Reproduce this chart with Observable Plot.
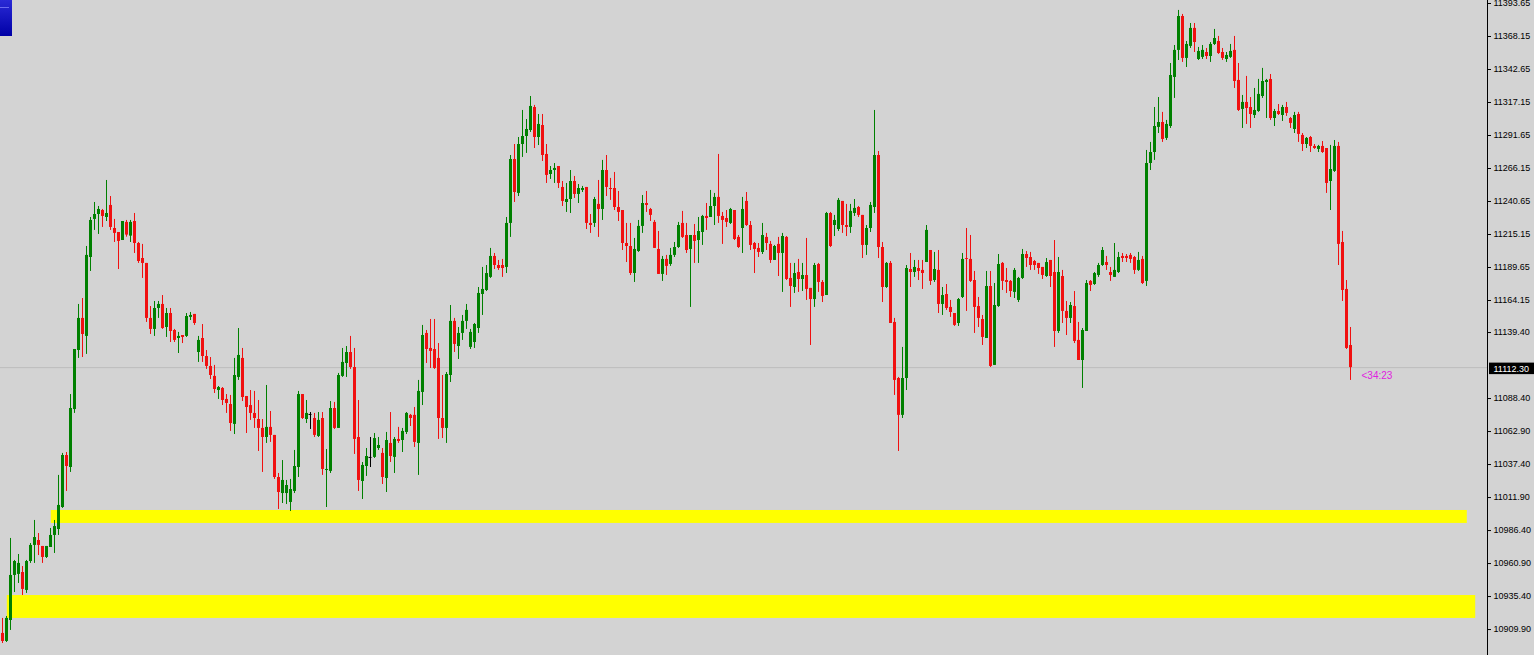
<!DOCTYPE html>
<html>
<head>
<meta charset="utf-8">
<script src="https://cdn.jsdelivr.net/npm/d3@7"></script>
<script src="https://cdn.jsdelivr.net/npm/@observablehq/plot@0.6"></script>
<style>
html,body{margin:0;padding:0;background:#d3d3d3;overflow:hidden;}
#wrap{position:relative;width:1534px;height:655px;}
#otc{position:absolute;left:0;top:0;width:12px;height:36px;background:linear-gradient(#2a2ad6,#0000a6);}
#otc::after{content:"";position:absolute;left:0;top:7px;width:9px;height:1px;background:#6b6bf0;}
</style>
</head>
<body>
<div id="wrap"><div id="chart"></div><div id="otc"></div></div>
<script>
const open = [
10906.9,10900.7,10916.9,10951.7,10952.5,10954.0,10940.1,10962.5,10974.9,10978.7,
10974.1,10965.6,10973.3,10982.6,10987.2,11004.2,11044.4,11035.1,11079.9,11125.5,
11150.3,11136.4,11197.4,11226.8,11230.6,11233.7,11228.3,11237.6,11219.8,11216.7,
11210.5,11224.5,11213.9,11225.2,11208.2,11196.6,11192.8,11150.3,11141.8,11158.0,
11161.1,11143.3,11154.1,11141.0,11134.8,11137.1,11136.4,11151.1,11153.4,11124.0,
11134.8,11120.9,11113.2,11105.5,11094.6,11096.2,11087.7,11083.8,11068.4,11104.7,
11119.4,11090.0,11083.0,11076.9,11072.2,11065.3,11058.3,11066.1,11059.9,11027.4,
11015.0,11015.0,11008.1,11016.6,11035.1,11091.5,11072.2,11076.1,11073.0,11059.1,
11073.0,11032.8,11032.1,11080.7,11065.3,11105.5,11115.5,11124.0,11112.4,11058.3,
11024.3,11035.9,11042.9,11042.9,11049.8,11046.0,11026.6,11053.7,11042.9,11056.8,
11056.0,11062.2,11075.4,11075.4,11053.7,11093.1,11138.7,11127.1,11126.3,11119.4,
11073.0,11065.3,11106.2,11148.0,11128.6,11138.7,11148.0,11127.9,11131.7,11142.5,
11168.8,11171.9,11182.0,11198.2,11191.2,11191.2,11189.7,11223.7,11273.1,11246.9,
11284.7,11290.9,11295.5,11313.3,11290.1,11299.4,11277.0,11261.5,11264.6,11267.7,
11251.5,11239.9,11242.2,11256.1,11246.1,11249.2,11251.5,11223.7,11223.7,11238.4,
11234.5,11264.6,11250.7,11250.7,11236.0,11233.7,11208.2,11205.9,11185.0,11202.0,
11221.4,11239.1,11234.5,11224.5,11203.6,11184.3,11195.9,11192.0,11199.0,11205.1,
11223.7,11214.4,11203.6,11214.4,11210.5,11216.7,11229.1,11228.3,11236.8,11243.8,
11229.1,11227.5,11223.7,11233.7,11212.9,11219.8,11240.7,11222.1,11208.2,11204.4,
11201.3,11212.9,11207.5,11195.1,11207.5,11200.5,11212.9,11181.2,11174.2,11185.8,
11180.4,11183.5,11173.5,11164.9,11192.0,11178.1,11168.0,11231.4,11222.1,11219.0,
11240.7,11222.1,11220.6,11231.4,11236.0,11229.9,11206.7,11219.8,11236.0,11276.2,
11205.1,11174.2,11192.8,11147.2,11103.9,11075.4,11103.9,11188.1,11185.8,11188.9,
11187.4,11193.5,11202.8,11179.6,11187.4,11161.1,11168.8,11158.8,11154.1,11146.4,
11166.5,11196.6,11195.9,11179.6,11159.5,11149.5,11134.8,11175.0,11114.0,11159.5,
11192.8,11179.6,11178.9,11170.4,11164.2,11181.2,11199.7,11197.4,11194.3,11192.8,
11189.7,11182.7,11195.1,11185.8,11140.2,11182.7,11155.7,11150.3,11159.5,11133.3,
11117.8,11140.2,11178.9,11176.5,11183.5,11191.2,11193.5,11185.8,11182.0,11185.8,
11198.2,11198.2,11199.0,11197.4,11187.4,11195.9,11178.9,11270.0,11278.5,11297.9,
11301.7,11289.4,11298.6,11336.5,11357.4,11383.6,11351.2,11360.5,11374.4,11350.4,
11352.0,11355.8,11352.7,11362.0,11364.3,11355.8,11350.4,11352.0,11357.4,11334.2,
11311.8,11317.2,11313.3,11307.1,11310.2,11321.8,11332.6,11335.0,11304.8,11310.2,
11307.1,11313.3,11304.8,11296.3,11307.9,11291.7,11284.7,11290.1,11283.2,11280.9,
11283.2,11281.6,11256.1,11263.9,11283.2,11209.0,11172.7,11129.4];
const high = [
10918.5,10920.0,10980.3,10963.3,10967.9,10958.6,10963.3,10976.4,10994.2,10984.1,
10974.1,10974.1,10988.0,10994.2,11029.0,11046.0,11046.7,11091.5,11126.3,11161.1,
11165.7,11205.9,11228.3,11239.9,11236.8,11234.5,11256.9,11244.5,11226.8,11216.7,
11225.2,11226.0,11226.0,11231.4,11209.0,11207.5,11192.8,11159.5,11163.4,11163.4,
11168.0,11158.0,11158.0,11141.8,11139.5,11137.1,11154.1,11154.9,11153.4,11136.4,
11145.6,11125.5,11120.1,11114.0,11097.7,11096.9,11091.5,11090.8,11119.4,11142.5,
11127.1,11090.0,11094.6,11093.9,11086.9,11072.2,11098.5,11078.4,11059.9,11030.5,
11040.5,11025.1,11025.9,11048.3,11093.9,11091.5,11086.9,11077.6,11076.9,11077.6,
11077.6,11049.0,11086.1,11085.4,11107.8,11127.1,11128.6,11136.4,11127.1,11086.9,
11039.0,11049.8,11058.3,11061.4,11058.3,11049.8,11062.2,11077.6,11058.3,11066.1,
11065.3,11077.6,11076.1,11081.5,11102.4,11144.9,11141.0,11149.5,11149.5,11130.9,
11106.2,11108.5,11160.3,11150.3,11143.3,11152.6,11161.1,11141.8,11146.4,11174.2,
11189.7,11191.2,11204.4,11200.5,11195.1,11195.9,11228.3,11276.2,11284.7,11290.1,
11311.0,11304.0,11321.8,11314.9,11307.9,11307.9,11284.7,11267.7,11270.0,11267.7,
11256.1,11254.6,11264.6,11260.0,11253.8,11252.3,11251.5,11230.6,11243.8,11256.9,
11272.4,11276.2,11258.5,11263.1,11248.4,11233.7,11223.7,11223.7,11212.1,11226.0,
11245.3,11248.4,11235.3,11226.0,11217.5,11198.2,11199.0,11204.4,11209.0,11224.5,
11233.0,11223.7,11214.4,11222.9,11228.3,11229.9,11239.1,11249.2,11246.9,11277.0,
11232.2,11233.7,11235.3,11233.7,11214.4,11243.8,11247.6,11225.2,11209.0,11208.2,
11223.7,11216.0,11209.8,11206.7,11212.9,11216.0,11213.6,11192.8,11192.8,11195.9,
11192.8,11212.1,11173.5,11192.8,11192.8,11179.6,11232.2,11232.2,11229.9,11243.0,
11240.7,11238.4,11238.4,11242.2,11236.8,11229.9,11222.1,11239.9,11311.0,11279.3,
11209.0,11193.5,11194.3,11150.3,11104.7,11127.9,11191.2,11200.5,11195.1,11195.1,
11195.1,11222.1,11202.8,11201.3,11202.8,11174.2,11176.5,11164.2,11154.1,11165.7,
11200.5,11219.8,11214.4,11186.6,11166.5,11152.6,11186.6,11186.6,11177.3,11199.7,
11193.5,11188.9,11179.6,11188.9,11182.0,11203.6,11202.0,11201.3,11195.1,11192.8,
11189.7,11196.6,11195.1,11210.5,11197.4,11187.4,11163.4,11162.6,11171.1,11147.2,
11142.5,11179.6,11179.6,11185.8,11192.8,11205.1,11198.2,11189.7,11208.2,11201.3,
11200.5,11199.7,11200.5,11198.2,11201.3,11198.2,11280.1,11286.3,11313.3,11321.0,
11309.5,11303.3,11347.3,11361.2,11388.3,11385.2,11364.3,11378.2,11378.2,11359.7,
11361.2,11358.9,11363.5,11373.6,11368.2,11358.9,11355.8,11362.0,11368.2,11347.3,
11322.6,11337.3,11321.0,11328.0,11335.0,11343.5,11335.0,11338.8,11311.8,11315.6,
11314.9,11317.2,11305.6,11309.5,11309.5,11293.2,11290.1,11290.9,11284.7,11284.0,
11287.0,11281.6,11284.0,11287.8,11286.3,11217.5,11179.6,11143.3];
const low = [
10899.1,10899.9,10909.2,10938.5,10945.5,10936.2,10937.8,10961.0,10961.0,10967.1,
10961.0,10964.8,10973.3,10968.7,10982.6,11003.5,11016.6,11031.3,11076.9,11119.4,
11120.1,11122.5,11186.6,11218.3,11215.2,11220.6,11225.2,11218.3,11209.0,11188.1,
11210.5,11213.1,11209.0,11200.5,11192.8,11181.2,11147.2,11137.9,11136.4,11150.3,
11141.8,11135.6,11131.7,11131.7,11123.2,11130.9,11135.6,11148.7,11144.9,11116.3,
11116.3,11110.9,11103.1,11092.3,11087.7,11083.0,11076.9,11063.0,11060.6,11102.4,
11086.1,11061.4,11071.5,11065.3,11047.5,11031.3,11053.7,11054.5,11025.9,11002.7,
11007.3,11006.5,11001.1,11015.0,11027.4,11072.2,11069.1,11064.5,11058.3,11058.3,
11029.0,11004.2,11030.5,11064.5,11065.3,11104.7,11104.7,11110.9,11045.2,11016.6,
11010.4,11028.2,11035.1,11042.1,11048.3,11022.0,11015.8,11039.0,11030.5,11053.7,
11046.7,11060.6,11066.8,11050.6,11029.0,11083.0,11115.5,11111.6,11110.9,11056.8,
11057.5,11053.7,11100.8,11124.0,11118.6,11133.3,11141.8,11126.3,11127.1,11138.7,
11152.6,11171.1,11181.2,11188.1,11187.4,11182.0,11185.0,11212.9,11239.9,11244.5,
11274.7,11277.8,11294.0,11281.6,11283.9,11271.6,11254.6,11257.7,11254.6,11250.7,
11236.8,11232.2,11231.4,11243.0,11239.1,11247.6,11219.0,11216.0,11220.6,11212.9,
11226.0,11244.5,11241.5,11233.7,11225.2,11202.8,11193.5,11183.5,11178.1,11201.3,
11216.0,11232.2,11225.2,11204.4,11184.3,11178.9,11183.5,11190.5,11197.4,11204.4,
11212.1,11200.5,11158.8,11192.8,11192.8,11206.7,11218.3,11228.3,11222.1,11223.7,
11207.5,11220.6,11222.9,11210.5,11204.4,11200.5,11221.4,11202.8,11185.0,11197.4,
11199.7,11202.8,11192.8,11195.1,11182.7,11170.4,11179.6,11158.8,11169.6,11170.4,
11171.1,11164.2,11129.4,11158.8,11170.4,11162.6,11168.0,11205.1,11213.6,11217.5,
11216.0,11213.6,11216.0,11229.1,11228.3,11196.6,11199.0,11216.7,11231.4,11196.6,
11162.6,11173.5,11146.4,11090.8,11047.5,11073.0,11094.6,11174.2,11182.0,11179.6,
11172.7,11193.5,11175.8,11178.1,11154.1,11152.6,11156.5,11151.1,11144.1,11144.1,
11165.7,11155.7,11178.1,11138.7,11143.3,11129.4,11134.8,11112.4,11114.0,11158.8,
11171.9,11169.6,11166.5,11165.7,11162.6,11180.4,11189.7,11187.4,11187.4,11184.3,
11180.4,11182.0,11174.2,11127.9,11138.7,11146.4,11137.1,11146.4,11130.9,11117.8,
11096.2,11140.2,11171.1,11175.8,11182.0,11190.5,11187.4,11178.9,11182.0,11185.0,
11193.5,11193.5,11192.8,11184.3,11186.6,11176.5,11175.0,11264.6,11272.4,11293.2,
11286.3,11287.8,11297.1,11320.3,11349.6,11348.1,11344.2,11358.9,11355.8,11349.6,
11350.4,11350.4,11348.1,11361.2,11354.3,11349.6,11348.1,11351.2,11328.0,11310.2,
11297.1,11300.2,11297.1,11304.8,11309.5,11320.3,11304.8,11303.3,11298.6,11307.1,
11302.5,11306.4,11297.1,11293.2,11286.3,11279.3,11281.6,11278.5,11280.9,11278.5,
11277.8,11246.9,11233.7,11263.1,11191.2,11163.4,11126.3,11102.4];
const close = [
10900.7,10918.5,10951.7,10962.5,10961.0,10940.9,10962.5,10974.9,10981.0,10974.9,
10965.6,10974.1,10982.6,10989.5,11005.8,11044.4,11035.9,11080.7,11126.3,11150.3,
11137.9,11199.0,11226.0,11230.6,11234.5,11229.1,11231.4,11220.6,11216.0,11209.8,
11225.2,11214.7,11224.5,11208.2,11194.3,11192.8,11150.3,11141.8,11158.0,11161.1,
11142.5,11154.1,11140.2,11133.3,11136.4,11135.6,11151.8,11152.6,11146.4,11133.3,
11120.9,11113.2,11106.2,11095.4,11096.9,11086.9,11084.6,11069.1,11106.2,11121.7,
11089.2,11081.5,11076.9,11073.0,11065.3,11058.3,11066.1,11059.9,11027.4,11015.8,
11025.1,11021.2,11018.1,11035.9,11091.5,11073.0,11076.9,11076.1,11059.9,11071.5,
11033.6,11033.6,11080.7,11065.3,11106.2,11116.3,11124.0,11112.4,11056.8,11025.1,
11036.7,11043.6,11042.9,11057.5,11052.1,11027.4,11056.0,11043.6,11056.8,11055.2,
11063.0,11076.9,11073.0,11054.5,11093.9,11137.1,11126.3,11124.8,11111.6,11073.0,
11065.3,11107.0,11148.0,11130.2,11138.7,11148.0,11156.5,11139.5,11145.6,11169.6,
11172.7,11185.0,11198.2,11191.2,11188.9,11188.9,11223.7,11273.1,11247.6,11284.7,
11290.9,11296.3,11314.1,11290.1,11300.2,11276.2,11260.8,11264.6,11266.2,11254.6,
11240.7,11242.2,11256.1,11246.1,11250.7,11250.7,11223.7,11222.1,11242.2,11234.5,
11264.6,11251.5,11249.9,11236.0,11232.2,11208.2,11205.9,11185.0,11203.6,11221.4,
11239.1,11237.6,11229.9,11204.4,11184.3,11195.9,11190.5,11199.0,11205.1,11222.1,
11212.9,11202.8,11214.4,11209.8,11217.5,11229.1,11227.5,11236.8,11243.8,11229.1,
11226.0,11224.5,11234.5,11211.3,11205.1,11234.5,11222.1,11206.7,11203.6,11201.3,
11214.4,11208.2,11195.1,11205.9,11200.5,11213.6,11180.4,11175.0,11185.0,11180.4,
11183.5,11172.7,11164.9,11191.2,11178.1,11167.3,11231.4,11205.9,11226.0,11241.5,
11222.1,11220.6,11233.0,11235.3,11229.9,11206.7,11219.8,11237.6,11276.2,11205.1,
11174.2,11192.8,11146.4,11102.4,11075.4,11103.9,11188.9,11185.8,11189.7,11186.6,
11185.0,11218.3,11178.9,11188.1,11161.1,11168.0,11158.0,11154.9,11144.9,11164.9,
11195.9,11195.9,11178.9,11158.8,11150.3,11135.6,11175.0,11113.2,11160.3,11192.0,
11178.9,11178.1,11171.1,11187.4,11181.2,11199.7,11196.6,11191.2,11191.2,11188.9,
11183.5,11193.5,11182.7,11140.2,11185.8,11155.7,11150.3,11160.3,11132.5,11117.8,
11141.0,11177.3,11175.8,11185.0,11191.2,11202.8,11191.2,11183.5,11187.4,11197.4,
11196.6,11196.6,11195.9,11187.4,11195.1,11177.3,11270.0,11278.5,11298.6,11301.7,
11288.6,11300.2,11338.0,11357.4,11383.6,11351.2,11362.0,11374.4,11363.5,11356.6,
11357.4,11352.7,11362.0,11366.6,11355.0,11351.2,11353.5,11356.6,11333.4,11311.0,
11317.2,11312.5,11307.9,11311.0,11323.4,11333.4,11334.2,11304.8,11310.2,11307.9,
11313.3,11308.7,11301.0,11307.1,11292.5,11284.7,11289.4,11283.2,11281.6,11283.2,
11278.5,11254.6,11265.4,11283.2,11207.5,11171.9,11127.1,11112.3];

// price scale labels shown on the right axis
const yTicks = [11393.65,11368.15,11342.65,11317.15,11291.65,11266.15,11240.65,11215.15,11189.65,
  11164.15,11139.40,11088.40,11062.90,11037.40,11011.90,10986.40,10960.90,10935.40,10909.90];
const currentPrice = 11112.30;
const timerLabel = "<34:23";

// support zones (yellow rectangles): bar index start/end, price top/bottom
const zoneStart = [12.2, 1.2];
const zoneEnd = [366.2, 368.3];
const zoneTop = [11001.9, 10936.2];
const zoneBottom = [10991.9, 10918.5];

const candles = open.map((o, i) => ({i, open: o, high: high[i], low: low[i], close: close[i]}));
const zones = zoneStart.map((s, k) => ({x1: s, x2: zoneEnd[k], y1: zoneTop[k], y2: zoneBottom[k]}));
const ups = candles.filter(d => d.close > d.open);
const downs = candles.filter(d => d.close < d.open);
const dojis = candles.filter(d => d.close === d.open);

const GREEN = "#008000", RED = "#f01010";
const xDomain = [-0.5, 371.25];
const yDomain = [10889.85, 11395.97];
const last = candles.length - 1;

const plot = Plot.plot({
  width: 1534,
  height: 655,
  marginLeft: 0,
  marginRight: 47,
  marginTop: 0,
  marginBottom: 0,
  style: {background: "#d3d3d3", fontFamily: "'Liberation Sans', Arial, sans-serif", fontSize: "9px", color: "#000", overflow: "visible"},
  x: {domain: xDomain, axis: null},
  y: {domain: yDomain, axis: "right", ticks: yTicks, tickFormat: d => d.toFixed(2), tickSize: 3, tickPadding: 3, label: null},
  marks: [
    Plot.rect(zones, {x1: "x1", x2: "x2", y1: "y1", y2: "y2", fill: "#ffff00"}),
    Plot.ruleY([currentPrice], {stroke: "#bdbdbd"}),
    Plot.ruleX(ups, {x: "i", y1: "low", y2: "high", stroke: GREEN, strokeWidth: 1}),
    Plot.ruleX(downs, {x: "i", y1: "low", y2: "high", stroke: RED, strokeWidth: 1}),
    Plot.ruleX(dojis, {x: "i", y1: "low", y2: "high", stroke: "#000", strokeWidth: 1}),
    Plot.ruleX(ups, {x: "i", y1: "open", y2: "close", stroke: GREEN, strokeWidth: 3}),
    Plot.ruleX(downs, {x: "i", y1: "open", y2: "close", stroke: RED, strokeWidth: 3}),
    Plot.ruleY(dojis, {y: "open", x1: d => d.i - 0.375, x2: d => d.i + 0.375, stroke: "#000"}),
    Plot.ruleX([xDomain[1]], {stroke: "#000"}),
    Plot.rect([currentPrice], {x1: () => xDomain[1], x2: () => xDomain[1], y1: d => d, y2: d => d,
      insetLeft: 2, insetRight: -47, insetTop: -4.5, insetBottom: -7, fill: "#000"}),
    Plot.text([currentPrice], {x: () => xDomain[1], y: d => d, text: d => d.toFixed(2), dx: 6, dy: 1,
      textAnchor: "start", fill: "#fff", fontSize: 9}),
    Plot.text([timerLabel], {x: () => last, y: () => close[last], text: d => d, dx: 11, dy: 8,
      textAnchor: "start", fill: "#e020e0", fontSize: 10})
  ]
});
document.getElementById("chart").appendChild(plot);
</script>
</body>
</html>
